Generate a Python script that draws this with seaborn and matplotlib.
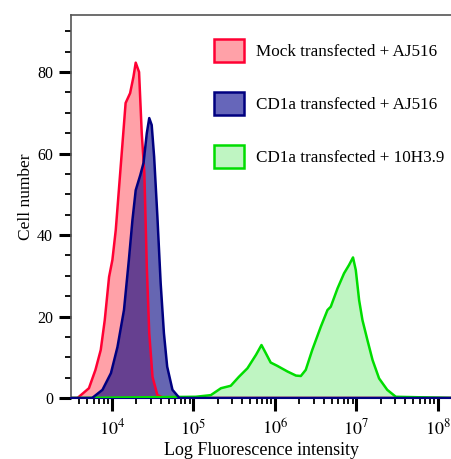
import numpy as np
import pandas as pd
import matplotlib
matplotlib.use("Agg")
import matplotlib.pyplot as plt
import matplotlib.ticker as mticker
from matplotlib.patches import Patch
import seaborn as sns

# ---- data (log10 of fluorescence intensity, cell counts) ----
mock_logx = [3.50, 3.58, 3.72, 3.80, 3.865, 3.914, 3.967, 4.008, 4.049, 4.10, 4.17, 4.225,
             4.266, 4.294, 4.335, 4.368, 4.40, 4.43, 4.46, 4.50, 4.56, 4.64, 8.20]
mock_y = [0, 0, 2.4, 6.9, 11.8, 19.1, 29.7, 33.9, 41.2, 54.3, 72.4, 74.8,
          78.8, 82.3, 80.0, 65.0, 55.2, 32.2, 15.9, 5.2, 0.7, 0, 0]

cd1a_logx = [3.50, 3.76, 3.886, 3.99, 4.07, 4.15, 4.21, 4.254, 4.294, 4.35, 4.39, 4.43,
             4.46, 4.49, 4.52, 4.56, 4.60, 4.64, 4.68, 4.745, 4.83, 8.20]
cd1a_y = [0, 0, 2.0, 6.1, 12.5, 21.6, 33.9, 43.7, 51.0, 54.7, 57.7, 65.0,
          68.7, 67.0, 59.2, 44.5, 28.2, 15.9, 7.7, 2.0, 0, 0]

h10_logx = [3.50, 5.03, 5.215, 5.34, 5.46, 5.56, 5.665, 5.77, 5.837, 5.89, 5.95, 6.03,
            6.156, 6.26, 6.32, 6.38, 6.46, 6.565, 6.647, 6.687, 6.77, 6.85, 6.91,
            6.96, 6.994, 7.035, 7.076, 7.137, 7.20, 7.28, 7.38, 7.485, 8.20]
h10_y = [0, 0.3, 0.7, 2.4, 3.0, 5.2, 7.3, 10.6, 13.0, 11.0, 8.7, 7.9,
         6.5, 5.5, 5.4, 6.9, 11.8, 17.5, 21.6, 22.4, 26.9, 30.6, 32.6,
         34.5, 31.4, 24.0, 19.1, 14.2, 9.3, 4.8, 2.0, 0.3, 0]

labels = ["Mock transfected + AJ516", "CD1a transfected + AJ516", "CD1a transfected + 10H3.9"]
y_ticks = [0, 20, 40, 60, 80]

df = pd.concat([
    pd.DataFrame({"x": 10 ** np.array(mock_logx), "y": mock_y, "s": labels[0]}),
    pd.DataFrame({"x": 10 ** np.array(h10_logx), "y": h10_y, "s": labels[2]}),
    pd.DataFrame({"x": 10 ** np.array(cd1a_logx), "y": cd1a_y, "s": labels[1]}),
])

sns.set_theme(style="ticks")
plt.rcParams["font.family"] = ["Liberation Serif", "DejaVu Serif"]
plt.rcParams["mathtext.fontset"] = "stix"

styles = {
    labels[0]: dict(fill=(1.0, 0.63, 0.66), edge="#ff0033", alpha=1.0),
    labels[2]: dict(fill=(0.75, 0.96, 0.76), edge="#00dd00", alpha=1.0),
    labels[1]: dict(fill="#000080", edge="#000080", alpha=0.6),
}

fig = plt.figure(figsize=(4.52, 4.59), dpi=100)
ax = fig.add_axes([71 / 452, 61 / 459, (452 - 71) / 452 + 0.001, (398 - 15) / 459])

for name in [labels[0], labels[2], labels[1]]:
    sub = df[df["s"] == name]
    st = styles[name]
    ax.fill_between(sub["x"], 0, sub["y"], color=st["fill"], alpha=st["alpha"], lw=0, zorder=2)
    sns.lineplot(data=sub, x="x", y="y", ax=ax, color=st["edge"], lw=1.8,
                 sort=False, estimator=None, legend=False, zorder=3)

ax.set_xscale("log")
ax.set_xlim(10 ** 3.5, 10 ** 8.18)
ax.set_ylim(0, 94)

ax.set_yticks(y_ticks)
ax.yaxis.set_minor_locator(mticker.MultipleLocator(5))
ax.xaxis.set_major_locator(mticker.LogLocator(base=10, numticks=10))
ax.xaxis.set_minor_locator(mticker.LogLocator(base=10, subs=np.arange(2, 10), numticks=20))
ax.xaxis.set_minor_formatter(mticker.NullFormatter())
ax.xaxis.set_major_formatter(mticker.FuncFormatter(
    lambda v, p: r"$10^{%d}$" % round(np.log10(v))))

ax.tick_params(axis="both", which="major", length=9, width=2.2, color="black",
               labelsize=11.5, labelcolor="black", direction="out")
ax.tick_params(axis="both", which="minor", length=4.5, width=1.3, color="black", direction="out")
ax.tick_params(axis="x", which="major", pad=6, labelsize=13)
ax.tick_params(axis="y", which="major", pad=4)

for side in ["left", "top"]:
    ax.spines[side].set_color("#555555")
    ax.spines[side].set_linewidth(1.2)
ax.spines["bottom"].set_color("#000080")
ax.spines["bottom"].set_linewidth(1.5)
ax.spines["right"].set_visible(False)

ax.set_xlabel("Log Fluorescence intensity", fontsize=13, color="black", labelpad=2)
ax.set_ylabel("Cell number", fontsize=12.5, color="black", labelpad=2)
ax.yaxis.set_label_coords(-0.097, 0.525)

handles = [Patch(facecolor=styles[l]["fill"], edgecolor=styles[l]["edge"], lw=1.8) for l in labels]
handles[1] = Patch(facecolor=(0.4, 0.4, 0.73), edgecolor="#000080", lw=1.8)
leg = ax.legend(handles, labels, loc="upper left", bbox_to_anchor=(200 / 452, 1 - 25 / 459),
                bbox_transform=fig.transFigure, frameon=False, fontsize=12.3,
                handlelength=1.75, handleheight=1.75, labelspacing=1.72,
                handletextpad=0.7, borderpad=0.3)
for t in leg.get_texts():
    t.set_color("black")

fig.savefig("out.png", dpi=100)
